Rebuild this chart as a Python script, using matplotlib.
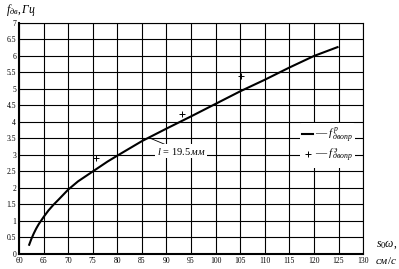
import matplotlib
matplotlib.use("Agg")
import matplotlib.pyplot as plt
from matplotlib.lines import Line2D

plt.rcParams['font.family'] = ['Liberation Serif', 'DejaVu Serif']
plt.rcParams['mathtext.fontset'] = 'custom'
plt.rcParams['mathtext.rm'] = 'Liberation Serif'
plt.rcParams['mathtext.it'] = 'Liberation Serif:italic'

# расчетная кривая
calc_x = [62, 62.5, 63, 63.5, 64, 65, 66, 67, 68, 70, 72, 75, 78, 80, 85, 90, 95, 100, 105, 110, 115, 120, 125]
calc_y = [0.25, 0.45, 0.62, 0.77, 0.9, 1.12, 1.32, 1.49, 1.64, 1.95, 2.2, 2.5, 2.8, 2.98, 3.42, 3.8, 4.17, 4.55, 4.93, 5.28, 5.65, 6.0, 6.28]

# экспериментальные точки
exp_x = [75.6, 93.1, 105.2]
exp_y = [2.9, 4.23, 5.39]

x_ticks = list(range(60, 131, 5))
y_ticks = [0, 0.5, 1, 1.5, 2, 2.5, 3, 3.5, 4, 4.5, 5, 5.5, 6, 6.5, 7]
y_labels = ['0', '0.5', '1', '1.5', '2', '2.5', '3', '3.5', '4', '4.5', '5', '5.5', '6', '6.5', '7']

fig = plt.figure(figsize=(3.99, 2.69), dpi=100)
ax = fig.add_axes([0.0476, 0.0558, 0.8624, 0.8587])

ax.plot(calc_x, calc_y, color='black', lw=1.5, solid_capstyle='butt', zorder=3)
ax.plot(exp_x, exp_y, '+', color='black', ms=5, mew=0.7, zorder=3)

ax.set_xlim(60, 130)
ax.set_ylim(0, 7)
ax.set_xticks(x_ticks)
ax.set_yticks(y_ticks)
ax.set_yticklabels(y_labels)
ax.tick_params(length=0, labelsize=5.5, pad=2)
ax.grid(True, color='black', lw=0.8)
for s in ['top', 'right']:
    ax.spines[s].set_linewidth(0.8)
for s in ['left', 'bottom']:
    ax.spines[s].set_linewidth(1.5)

# подпись кривой
ax.annotate(r'$l\,=\,19.5\,мм$', xy=(86.5, 3.52), xytext=(88, 3.12),
            fontsize=7.5, va='center', ha='left',
            bbox=dict(facecolor='white', edgecolor='none', pad=1),
            arrowprops=dict(arrowstyle='-', color='black', lw=0.6,
                            shrinkA=0, shrinkB=0), zorder=4)

handles = [Line2D([], [], color='black', lw=1.5),
           Line2D([], [], color='black', marker='+', ls='none', ms=5, mew=0.7)]
labels = [r'— $f^{\,р}_{двопр}$', r'— $f^{\,э}_{двопр}$']
leg = ax.legend(handles, labels, loc='center left', bbox_to_anchor=(0.8, 0.47),
                frameon=True, fontsize=8, handlelength=1.0, handletextpad=0.2,
                borderpad=0.2, labelspacing=0.2)
leg.get_frame().set_edgecolor('none')
leg.get_frame().set_facecolor('white')
leg.get_frame().set_alpha(1)

fig.text(0.015, 0.962, r'$f_{дв}, Гц$', fontsize=8.5, ha='left', va='center')
fig.text(0.995, 0.09, r'$s_0\omega,$', fontsize=8.5, ha='right', va='center')
fig.text(0.995, 0.03, r'$см/с$', fontsize=8, ha='right', va='center')

fig.savefig('out.png', dpi=100)
